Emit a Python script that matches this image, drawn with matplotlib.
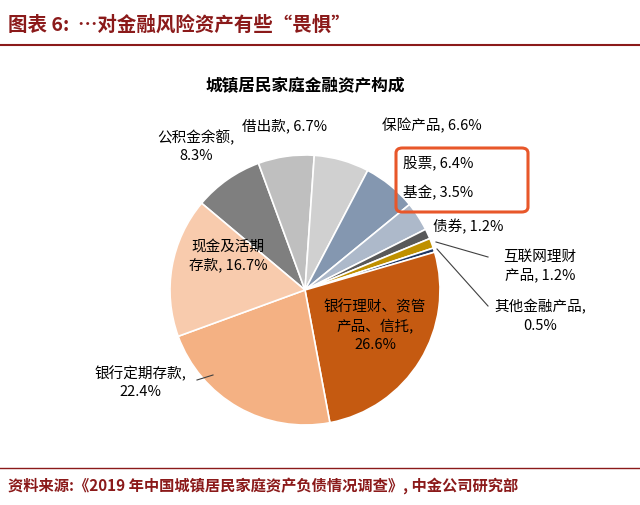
import matplotlib
matplotlib.use("Agg")
import matplotlib.pyplot as plt
from matplotlib.patches import FancyBboxPatch
from matplotlib.lines import Line2D

plt.rcParams["font.family"] = "Noto Sans CJK SC"

categories = ["公积金余额", "借出款", "保险产品", "股票", "基金", "债券", "互联网理财产品",
              "其他金融产品", "银行理财、资管产品、信托", "银行定期存款", "现金及活期存款"]
values = [8.3, 6.7, 6.6, 6.4, 3.5, 1.2, 1.2, 0.5, 26.6, 22.4, 16.7]
colors = ["#7f7f7f", "#bfbfbf", "#d0d0d0", "#8497b0", "#adb9ca", "#595959", "#bf9000",
          "#1f3864", "#c55a11", "#f4b183", "#f8cbad"]

W, H = 640, 505
fig = plt.figure(figsize=(6.4, 5.05), dpi=100)

def fx(x): return x / W
def fy(y): return 1 - y / H

cx, cy, r = 305, 290, 135
ax = fig.add_axes([fx(cx - r), fy(cy + r), 2 * r / W, 2 * r / H])
ax.pie(values, colors=colors, startangle=140, counterclock=False,
       wedgeprops=dict(edgecolor="white", linewidth=1.2))
ax.set_xlim(-1, 1); ax.set_ylim(-1, 1); ax.set_aspect("auto"); ax.axis("off")

# header
fig.text(fx(8), fy(25), "图表 6:  …对金融风险资产有些“畏惧”", fontsize=14, style="italic",
         fontweight="bold", color="#8b1a1a", va="center", ha="left")
fig.add_artist(Line2D([0, 1], [fy(45), fy(45)], color="#8b1a1a", lw=1.5))
fig.text(fx(305), fy(86), "城镇居民家庭金融资产构成", fontsize=12, fontweight="bold",
         ha="center", va="center")

fs = 10.5
def lab(x, y, s, ha="center"):
    fig.text(fx(x), fy(y), s, fontsize=fs, ha=ha, va="center", linespacing=1.35)

lab(196, 146, "公积金余额,\n8.3%")
lab(285, 126, "借出款, 6.7%")
lab(432, 126, "保险产品, 6.6%")
lab(403, 163, "股票, 6.4%", ha="left")
lab(403, 193, "基金, 3.5%", ha="left")
lab(433, 227, "债券, 1.2%", ha="left")
lab(540, 266, "互联网理财\n产品, 1.2%")
lab(540, 316, "其他金融产品,\n0.5%")
lab(375, 326, "银行理财、资管\n产品、信托,\n26.6%")
lab(140, 382, "银行定期存款,\n22.4%")
lab(228, 256, "现金及活期\n存款, 16.7%")

for (x0, y0, x1, y1) in [(436, 242, 488, 257), (437, 249, 488, 306), (197, 380, 213, 375)]:
    fig.add_artist(Line2D([fx(x0), fx(x1)], [fy(y0), fy(y1)], color="#404040", lw=0.8))

box = FancyBboxPatch((fx(396), fy(212)), fx(528 - 396), (212 - 148) / H,
                     boxstyle="round,pad=0,rounding_size=0.01", transform=fig.transFigure,
                     fill=False, edgecolor="#e8572a", lw=2.2)
fig.add_artist(box)

# footer
fig.add_artist(Line2D([0, 1], [fy(468), fy(468)], color="#8b1a1a", lw=1.0))
fig.text(fx(8), fy(486), "资料来源:《2019 年中国城镇居民家庭资产负债情况调查》, 中金公司研究部",
         fontsize=11, style="italic", fontweight="bold", color="#8b1a1a", va="center", ha="left")

fig.savefig("out.png", dpi=100)
